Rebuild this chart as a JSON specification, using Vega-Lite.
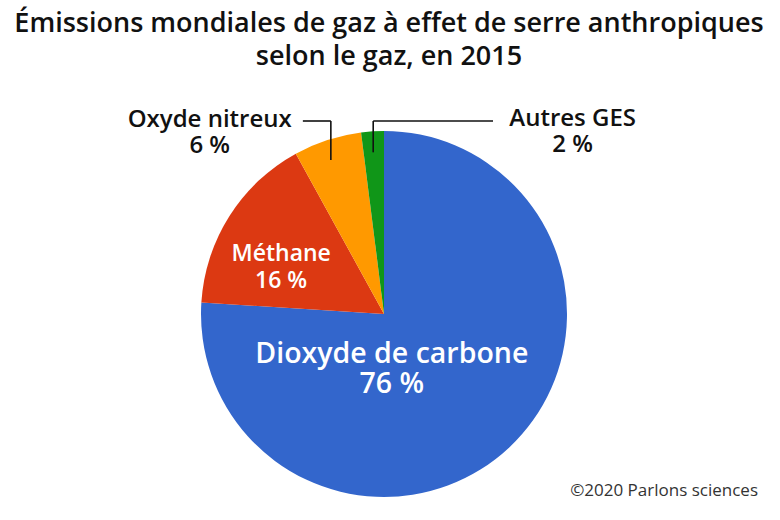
{
  "$schema": "https://vega.github.io/schema/vega-lite/v6.json",
  "autosize": {"type": "pad"},
  "padding": {"left": 0, "top": 10, "right": 0, "bottom": 20},
  "background": "white",
  "title": {
    "text": ["Émissions mondiales de gaz à effet de serre anthropiques", "selon le gaz, en 2015"],
    "font": "Open Sans", "fontSize": 27, "fontWeight": 600, "color": "#111111",
    "lineHeight": 33, "anchor": "middle", "frame": "group", "offset": 36, "dx": 5
  },
  "config": {"view": {"stroke": null}},
  "datasets": {
    "gaz": [
      {"gaz": "Dioxyde de carbone", "pct": 76, "ordre": 1},
      {"gaz": "Méthane", "pct": 16, "ordre": 2},
      {"gaz": "Oxyde nitreux", "pct": 6, "ordre": 3},
      {"gaz": "Autres GES", "pct": 2, "ordre": 4}
    ]
  },
  "vconcat": [
    {
      "width": 768,
      "height": 366,
      "title": {
        "text": "©2020 Parlons sciences", "orient": "bottom", "anchor": "end", "frame": "group",
        "font": "Open Sans", "fontSize": 17, "fontWeight": "normal", "color": "#333333",
        "offset": 0, "dy": -14, "dx": -10
      },
      "data": {"name": "gaz"},
      "transform": [
        {"window": [{"op": "sum", "field": "pct", "as": "cum"}], "sort": [{"field": "ordre"}]},
        {"calculate": "datum.cum - datum.pct / 2", "as": "mid"},
        {"calculate": "datum.gaz + '\\n' + datum.pct + ' %'", "as": "lbl"},
        {"calculate": "384 + 172 * sin(datum.mid / 100 * 2 * PI)", "as": "ax"},
        {"calculate": "183 - 162 * cos(datum.mid / 100 * 2 * PI)", "as": "ay"},
        {"calculate": "-10", "as": "ty"},
        {"calculate": "datum.gaz == 'Autres GES' ? 493 : datum.ax - 28", "as": "hx"}
      ],
      "layer": [
        {
          "mark": {"type": "arc", "outerRadius": 183, "stroke": null},
          "encoding": {
            "theta": {"field": "pct", "type": "quantitative", "stack": true, "scale": {"domain": [0, 100]}},
            "order": {"field": "ordre", "type": "quantitative"},
            "color": {
              "field": "gaz", "type": "nominal", "legend": null,
              "scale": {
                "domain": ["Dioxyde de carbone", "Méthane", "Oxyde nitreux", "Autres GES"],
                "range": ["#3366CC", "#DC3912", "#FF9900", "#109618"]
              }
            }
          }
        },
        {
          "transform": [{"filter": "datum.gaz == 'Dioxyde de carbone'"}],
          "mark": {"type": "text", "radius": 41, "thetaOffset": 0.562, "lineBreak": "\n", "lineHeight": 30,
                   "font": "Open Sans", "fontSize": 28.5, "fontWeight": 600, "color": "white", "align": "center", "baseline": "middle"},
          "encoding": {
            "theta": {"field": "mid", "type": "quantitative", "stack": null, "scale": {"domain": [0, 100]}},
            "text": {"field": "lbl", "type": "nominal"}
          }
        },
        {
          "transform": [{"filter": "datum.gaz == 'Méthane'"}],
          "mark": {"type": "text", "radius": 119, "thetaOffset": -0.038, "lineBreak": "\n", "lineHeight": 27,
                   "font": "Open Sans", "fontSize": 23, "fontWeight": 600, "color": "white", "align": "center", "baseline": "middle"},
          "encoding": {
            "theta": {"field": "mid", "type": "quantitative", "stack": null, "scale": {"domain": [0, 100]}},
            "text": {"field": "lbl", "type": "nominal"}
          }
        },
        {
          "transform": [{"filter": "datum.gaz == 'Oxyde nitreux'"}],
          "mark": {"type": "text", "radius": 261, "thetaOffset": -0.417, "lineBreak": "\n", "lineHeight": 26,
                   "font": "Open Sans", "fontSize": 24, "fontWeight": 600, "color": "#111111", "align": "center", "baseline": "middle"},
          "encoding": {
            "theta": {"field": "mid", "type": "quantitative", "stack": null, "scale": {"domain": [0, 100]}},
            "text": {"field": "lbl", "type": "nominal"}
          }
        },
        {
          "transform": [{"filter": "datum.gaz == 'Autres GES'"}],
          "mark": {"type": "text", "radius": 271, "thetaOffset": 0.833, "lineBreak": "\n", "lineHeight": 26,
                   "font": "Open Sans", "fontSize": 24, "fontWeight": 600, "color": "#111111", "align": "center", "baseline": "middle"},
          "encoding": {
            "theta": {"field": "mid", "type": "quantitative", "stack": null, "scale": {"domain": [0, 100]}},
            "text": {"field": "lbl", "type": "nominal"}
          }
        },
        {
          "transform": [{"filter": "datum.gaz == 'Oxyde nitreux' || datum.gaz == 'Autres GES'"}],
          "mark": {"type": "rule", "color": "#111111", "strokeWidth": 1.6},
          "encoding": {
            "x": {"field": "ax", "type": "quantitative", "scale": null},
            "y": {"field": "ay", "type": "quantitative", "scale": null},
            "y2": {"field": "ty"}
          }
        },
        {
          "transform": [{"filter": "datum.gaz == 'Oxyde nitreux' || datum.gaz == 'Autres GES'"}],
          "mark": {"type": "rule", "color": "#111111", "strokeWidth": 1.6},
          "encoding": {
            "x": {"field": "ax", "type": "quantitative", "scale": null},
            "x2": {"field": "hx"},
            "y": {"field": "ty", "type": "quantitative", "scale": null}
          }
        }
      ]
    }
  ]
}
